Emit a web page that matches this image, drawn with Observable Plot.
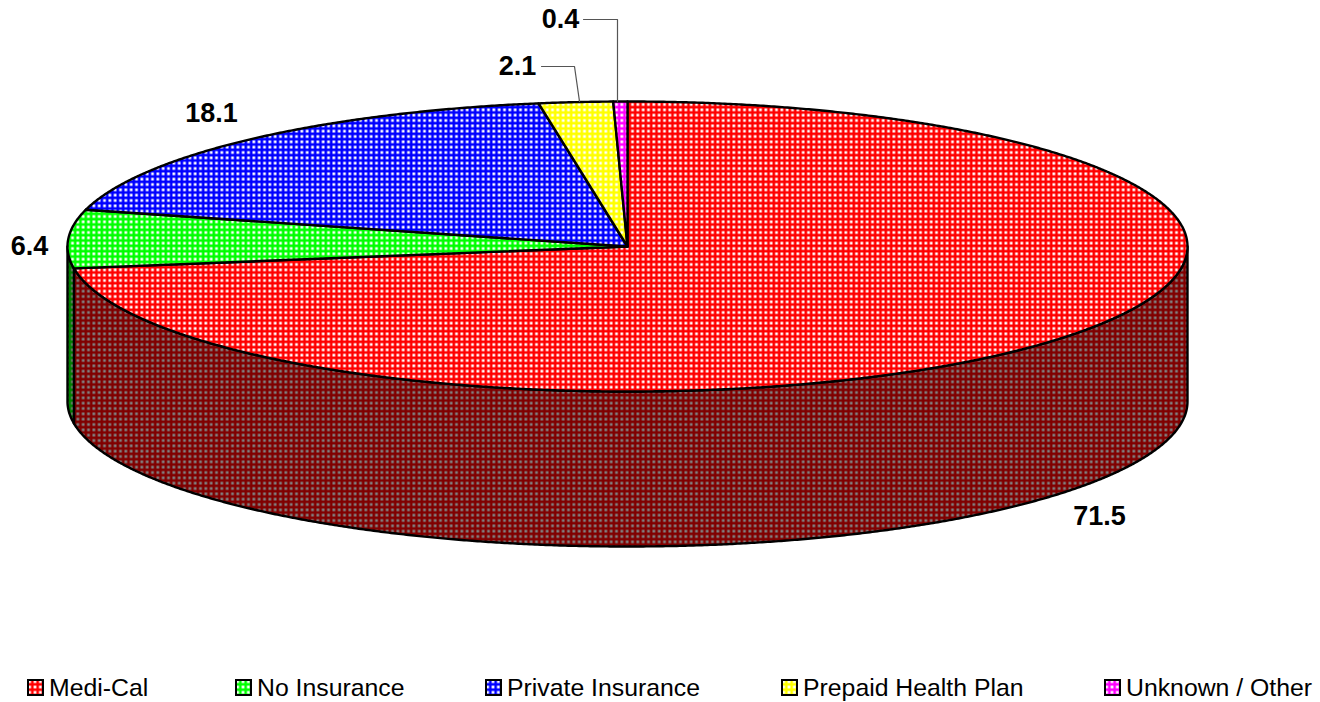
<!DOCTYPE html>
<html>
<head>
<meta charset="utf-8">
<script src="https://cdn.jsdelivr.net/npm/d3@7"></script>
<script src="https://cdn.jsdelivr.net/npm/@observablehq/plot@0.6"></script>
<style>
  html, body { margin: 0; padding: 0; background: #fff; overflow: hidden; }
  #chart svg { display: block; }
  #legend { position: relative; width: 1320px; height: 42px; font: 24.8px "Liberation Sans", Arial, sans-serif; color: #000; }
  #legend .item { position: absolute; top: 0; white-space: nowrap; }
  #legend svg { position: absolute; top: 19px; left: 0; }
  #legend span { position: absolute; left: 22px; top: 13px; line-height: 30px; }
</style>
</head>
<body>
<div id="chart"></div>
<div id="legend"></div>
<script>
const categories = ["Medi-Cal", "No Insurance", "Private Insurance", "Prepaid Health Plan", "Unknown / Other"];
const values = [71.5, 6.4, 18.1, 2.1, 0.4];
const topColors = ["#ff0000", "#00ff00", "#0000ff", "#ffff00", "#ff00ff"];
const sideColors = ["#800000", "#008000", "#000080", "#808000", "#800080"];
const legendLeft = [27, 235, 485, 781, 1104];

const W = 1320, H = 660;
const cx = 627, cy = 246, rx = 560, ry = 145, depth = 155;

const total = d3.sum(values);
let running = 0;
const slices = categories.map((name, i) => {
  const a0 = running / total * 2 * Math.PI;
  running += values[i];
  return {name, i, value: values[i], a0, a1: running / total * 2 * Math.PI};
});

// pie plane: x, y in radii; y grows upward. Depth is in the same y units.
const ex = a => Math.sin(a), ey = a => Math.cos(a);
const drop = depth / ry;
const arc = (a0, a1) => {
  const n = Math.max(2, Math.ceil(Math.abs(a1 - a0) / 0.005));
  return d3.range(n + 1).map(k => a0 + (a1 - a0) * k / n);
};

const topRows = slices.flatMap(s => {
  const pts = [{x: 0, y: 0}, ...arc(s.a0, s.a1).map(a => ({x: ex(a), y: ey(a)})), {x: 0, y: 0}];
  return pts.map(p => ({...p, i: s.i}));
});

const sideRows = slices.flatMap(s => {
  const lo = Math.max(s.a0, Math.PI / 2), hi = Math.min(s.a1, 1.5 * Math.PI);
  if (hi <= lo) return [];
  const as = arc(lo, hi);
  const pts = [
    ...as.map(a => ({x: ex(a), y: ey(a)})),
    ...as.slice().reverse().map(a => ({x: ex(a), y: ey(a) - drop}))
  ];
  pts.push(pts[0]);
  return pts.map(p => ({...p, i: s.i}));
});

const ux = px => (px - cx) / rx, uy = py => (cy - py) / ry;

const labelMarks = [
  {i: 0, at: [1099, 516]},
  {i: 1, at: [29, 246]},
  {i: 2, at: [211, 113]},
  {i: 3, at: [517, 66]},
  {i: 4, at: [560, 19]}
];
const labelRows = labelMarks.map(d => ({text: values[d.i].toFixed(1), x: ux(d.at[0]), y: uy(d.at[1])}));

const leaders = [
  [[541, 66], [574, 66], [579, 101]],
  [[583, 19], [617, 19], [617, 101]]
].flatMap((pts, k) => pts.map(p => ({k, x: ux(p[0]), y: uy(p[1])})));

const chart = Plot.plot({
  width: W, height: H,
  margin: 0,
  style: {background: "#fff"},
  x: {domain: [-1, 1], range: [cx - rx, cx + rx], axis: null},
  y: {domain: [-1, 1], range: [cy + ry, cy - ry], axis: null},
  marks: [
    ...slices.map(s => Plot.line(sideRows.filter(d => d.i === s.i), {
      x: "x", y: "y", curve: "linear",
      fill: `url(#side${s.i})`, stroke: "#000", strokeWidth: 2.4, strokeLinejoin: "round"
    })),
    ...slices.map(s => Plot.line(topRows.filter(d => d.i === s.i), {
      x: "x", y: "y", curve: "linear",
      fill: `url(#top${s.i})`, stroke: "#000", strokeWidth: 2.4, strokeLinejoin: "round"
    })),
    Plot.line(leaders, {x: "x", y: "y", z: "k", curve: "linear", stroke: "#555", strokeWidth: 1.2}),
    Plot.text(labelRows, {
      x: "x", y: "y", text: "text", fill: "#000",
      fontFamily: "'Liberation Sans', Arial, sans-serif", fontWeight: "bold", fontSize: 27,
      textAnchor: "middle", lineAnchor: "middle"
    })
  ]
});

// Dotted fill patterns
const NS = "http://www.w3.org/2000/svg";
const defs = document.createElementNS(NS, "defs");
const cell = 16 / 3, dotSize = 2.7;
function addPattern(id, color, dot) {
  const p = document.createElementNS(NS, "pattern");
  p.setAttribute("id", id);
  p.setAttribute("patternUnits", "userSpaceOnUse");
  p.setAttribute("width", cell);
  p.setAttribute("height", cell);
  const bg = document.createElementNS(NS, "rect");
  bg.setAttribute("width", cell); bg.setAttribute("height", cell); bg.setAttribute("fill", color);
  p.appendChild(bg);
  const c = document.createElementNS(NS, "rect");
  c.setAttribute("x", (cell - dotSize) / 2); c.setAttribute("y", (cell - dotSize) / 2);
  c.setAttribute("width", dotSize); c.setAttribute("height", dotSize);
  c.setAttribute("fill", dot);
  p.appendChild(c);
  defs.appendChild(p);
}
topColors.forEach((c, i) => addPattern(`top${i}`, c, "#fff"));
sideColors.forEach((c, i) => addPattern(`side${i}`, c, "#808080"));
chart.insertBefore(defs, chart.firstChild);
document.getElementById("chart").appendChild(chart);

// Legend
const legend = document.getElementById("legend");
categories.forEach((name, i) => {
  const item = document.createElement("div");
  item.className = "item";
  item.style.left = legendLeft[i] + "px";
  const sw = document.createElementNS(NS, "svg");
  sw.setAttribute("width", 18); sw.setAttribute("height", 18);
  const r = document.createElementNS(NS, "rect");
  r.setAttribute("x", 1); r.setAttribute("y", 1);
  r.setAttribute("width", 15); r.setAttribute("height", 15);
  r.setAttribute("fill", `url(#top${i})`);
  r.setAttribute("stroke", "#000"); r.setAttribute("stroke-width", 2);
  sw.appendChild(r);
  item.appendChild(sw);
  const t = document.createElement("span");
  t.textContent = name;
  item.appendChild(t);
  legend.appendChild(item);
});
</script>
</body>
</html>
